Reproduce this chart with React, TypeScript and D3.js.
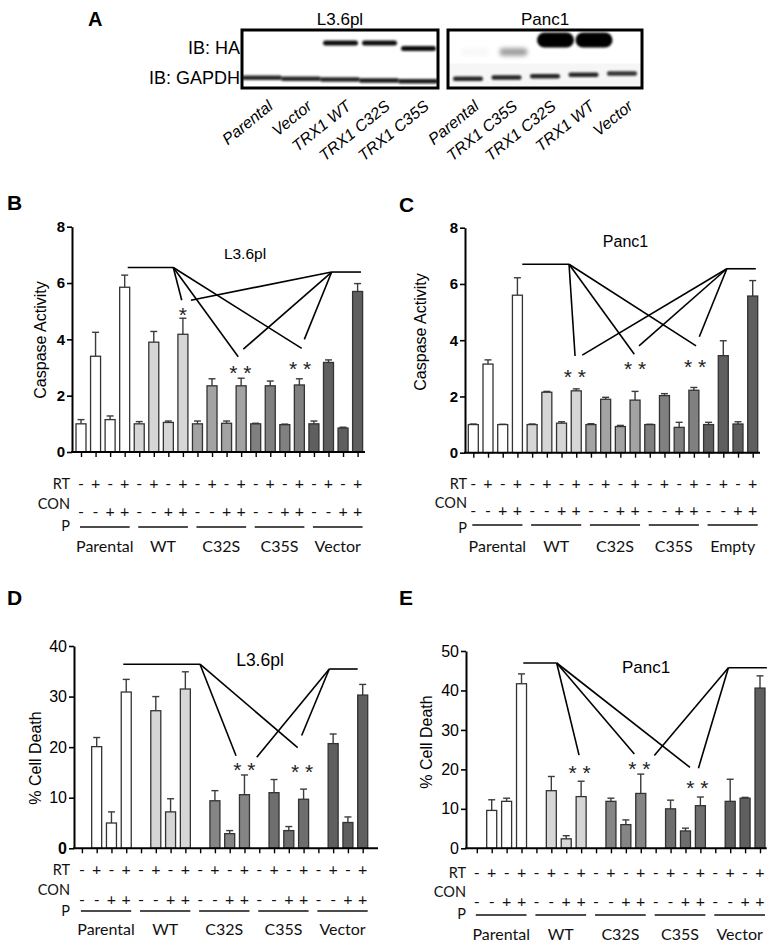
import { useEffect, useRef } from "react";
import * as d3 from "d3";

// ---------- data ----------
const groupsVector = ["Parental", "WT", "C32S", "C35S", "Vector"];
const groupsEmpty = ["Parental", "WT", "C32S", "C35S", "Empty"];
const rtSigns = ["-", "+", "-", "+"];
const conPSigns = ["-", "-", "+", "+"];

// B: caspase activity, L3.6pl
const caspaseL36 = [1.0, 3.4, 1.15, 5.85, 1.0, 3.9, 1.05, 4.18, 1.0, 2.35, 1.02, 2.35, 1.0, 2.35, 0.97, 2.38, 1.0, 3.18, 0.85, 5.7];
const caspaseL36Err = [0.15, 0.85, 0.13, 0.43, 0.08, 0.38, 0.05, 0.57, 0.1, 0.25, 0.08, 0.27, 0.02, 0.17, 0.02, 0.22, 0.1, 0.09, 0.03, 0.28];

// C: caspase activity, Panc1
const caspasePanc1 = [1.0, 3.15, 1.0, 5.6, 1.0, 2.15, 1.05, 2.2, 1.0, 1.9, 0.93, 1.87, 1.0, 2.03, 0.9, 2.22, 1.0, 3.45, 1.02, 5.57];
const caspasePanc1Err = [0.02, 0.15, 0.01, 0.62, 0.02, 0.03, 0.05, 0.07, 0.03, 0.07, 0.04, 0.31, 0.01, 0.07, 0.18, 0.1, 0.08, 0.53, 0.08, 0.55];

// D: % cell death, L3.6pl
const deathL36 = [0, 20.1, 5.0, 30.9, 0, 27.2, 7.2, 31.5, 0, 9.4, 2.9, 10.6, 0, 11.0, 3.5, 9.7, 0, 20.7, 5.1, 30.3];
const deathL36Err = [0, 1.8, 2.2, 2.5, 0, 2.8, 2.6, 3.4, 0, 2.0, 0.6, 3.9, 0, 2.6, 0.8, 2.0, 0, 1.9, 1.1, 2.1];

// E: % cell death, Panc1
const deathPanc1 = [0, 9.6, 11.9, 41.7, 0, 14.6, 2.4, 13.1, 0, 11.9, 6.0, 13.9, 0, 10.0, 4.4, 10.8, 0, 11.9, 12.7, 40.6];
const deathPanc1Err = [0, 2.7, 0.8, 2.5, 0, 3.6, 0.8, 3.9, 0, 0.8, 1.2, 4.9, 0, 2.2, 0.7, 2.2, 0, 5.6, 0.2, 3.1];

const caspaseTicks = [0, 2, 4, 6, 8];
const deathL36Ticks = [0, 10, 20, 30, 40];
const deathPanc1Ticks = [0, 10, 20, 30, 40, 50];

// significance brackets: [bar index, value]
const sigB = {
  left: [3.21, 6.34, 6.55], leftTo: [[6.92, 5.39], [10.8, 3.38], [15.16, 3.68]],
  right: [17.22, 19.23, 6.39], rightTo: [[7.55, 5.39], [11.15, 3.65], [15.34, 4.0]],
  stars: [[7, 5.05, "*"], [10.95, 2.97, "* *"], [15.05, 3.12, "* *"]],
};
const sigC = {
  left: [3.33, 6.51, 6.7], leftTo: [[6.92, 3.44], [10.95, 3.5], [15.15, 3.8]],
  right: [17.24, 19.21, 6.54], rightTo: [[7.41, 3.47], [11.27, 3.8], [15.37, 4.12]],
  stars: [[6.9, 2.88, "* *"], [11, 3.15, "* *"], [15.08, 3.24, "* *"]],
};
const sigD = {
  left: [2.8, 7.99, 36.4], leftTo: [[10.43, 18.3], [14.6, 19.9]],
  right: [16.74, 18.66, 35.45], rightTo: [[11.83, 18.0], [14.87, 22.3]],
  stars: [[11, 16.5, "* *"], [14.9, 16.0, "* *"]],
};
const sigE = {
  left: [3.12, 5.36, 46.96], leftTo: [[6.86, 23.6], [10.57, 23.9], [14.3, 20.5]],
  right: [16.88, 19.46, 45.77], rightTo: [[11.91, 23.5], [14.87, 20.3]],
  stars: [[6.9, 20.3, "* *"], [10.9, 21.4, "* *"], [14.8, 16.6, "* *"]],
};

// A: western blot lanes and band strengths
const blotL36Lanes = ["Parental", "Vector", "TRX1 WT", "TRX1 C32S", "TRX1 C35S"];
const blotL36HA = [0, 0, 0.95, 0.95, 0.95];
const blotL36GAPDH = [0.85, 0.85, 0.85, 0.9, 0.9];
const blotPanc1Lanes = ["Parental", "TRX1 C35S", "TRX1 C32S", "TRX1 WT", "Vector"];
const blotPanc1HA = [0.03, 0.45, 1, 1, 0];
const blotPanc1GAPDH = [0.85, 0.85, 0.85, 0.85, 0.8];

const shadesCaspase = ["#ffffff", "#d6d6d6", "#a3a3a3", "#808080", "#5f5f5f"];
const shadesDeath = ["#ffffff", "#d6d6d6", "#858585", "#6e6e6e", "#5f5f5f"];

const ARIAL = "'Liberation Sans', Arial, sans-serif";
const CALIBRI = "Lato, 'Open Sans', sans-serif";

const panels = [
  {
    letter: "B", values: caspaseL36, errors: caspaseL36Err, colors: shadesCaspase, groups: groupsVector,
    yMax: 8, ticks: caspaseTicks, boldTicks: true, title: "L3.6pl", yLabel: "Caspase Activity", sig: sigB,
    left: 72, right: 365, top: 226.7, bottom: 452, first: 81, last: 357.6,
    letterAt: [7, 210], titleAt: [245, 259], titleSize: 15.5, yLabelAt: [40, 340],
    table: { labelX: 70, rt: 489, con: 509, sign: 517, p: 531, line: 527, group: 552 },
  },
  {
    letter: "C", values: caspasePanc1, errors: caspasePanc1Err, colors: shadesCaspase, groups: groupsEmpty,
    yMax: 8, ticks: caspaseTicks, boldTicks: true, title: "Panc1", yLabel: "Caspase Activity", sig: sigC,
    left: 465, right: 760, top: 227.7, bottom: 452.7, first: 473.3, last: 752.7,
    letterAt: [399, 212], titleAt: [625.5, 247], titleSize: 16, yLabelAt: [420.5, 332],
    table: { labelX: 467, rt: 489, con: 508, sign: 516, p: 533, line: 525, group: 552 },
  },
  {
    letter: "D", values: deathL36, errors: deathL36Err, colors: shadesDeath, groups: groupsVector,
    yMax: 40, ticks: deathL36Ticks, boldTicks: false, zeroBold: true, title: "L3.6pl", yLabel: "% Cell Death", sig: sigD,
    left: 74, right: 378, top: 646, bottom: 848.3, first: 81.9, last: 362.7,
    letterAt: [7, 605], titleAt: [260, 666], titleSize: 17.5, yLabelAt: [35, 758],
    table: { labelX: 70, rt: 875, con: 895, sign: 905, p: 916, line: 911, group: 935 },
  },
  {
    letter: "E", values: deathPanc1, errors: deathPanc1Err, colors: shadesDeath, groups: groupsVector,
    yMax: 50, ticks: deathPanc1Ticks, boldTicks: false, title: "Panc1", yLabel: "% Cell Death", sig: sigE,
    left: 466, right: 766.7, top: 651, bottom: 848.3, first: 476.8, last: 760,
    letterAt: [399, 605], titleAt: [646, 673], titleSize: 17, yLabelAt: [426, 742],
    table: { labelX: 466, rt: 878, con: 897, sign: 907, p: 919, line: 915, group: 940 },
  },
];

function drawBarPanel(root: d3.Selection<SVGSVGElement, unknown, null, undefined>, cfg: any) {
  const g = root.append("g");
  const x = d3.scaleLinear().domain([0, cfg.values.length - 1]).range([cfg.first, cfg.last]);
  const y = d3.scaleLinear().domain([0, cfg.yMax]).range([cfg.bottom, cfg.top]);
  const bw = 10;
  const rows = cfg.values.map((v: number, i: number) => ({ v, i, e: cfg.errors[i] }));

  // panel letter
  g.append("text").attr("x", cfg.letterAt[0]).attr("y", cfg.letterAt[1])
    .style("font", `bold 21px ${ARIAL}`).text(cfg.letter);

  // error bars (under the bars so the stem starts at the top edge)
  const err = g.selectAll("g.err").data(rows.filter((d: any) => d.e > 0)).join("g").attr("class", "err")
    .attr("stroke", "#3c3c3c").attr("stroke-width", 1.4);
  err.append("line").attr("x1", (d: any) => x(d.i)).attr("x2", (d: any) => x(d.i))
    .attr("y1", (d: any) => y(d.v)).attr("y2", (d: any) => y(d.v + d.e));
  err.append("line").attr("x1", (d: any) => x(d.i) - 3.5).attr("x2", (d: any) => x(d.i) + 3.5)
    .attr("y1", (d: any) => y(d.v + d.e)).attr("y2", (d: any) => y(d.v + d.e));

  g.selectAll("rect.bar").data(rows.filter((d: any) => d.v > 0)).join("rect").attr("class", "bar")
    .attr("x", (d: any) => x(d.i) - bw / 2).attr("y", (d: any) => y(d.v))
    .attr("width", bw).attr("height", (d: any) => y(0) - y(d.v))
    .attr("fill", (d: any) => cfg.colors[Math.floor(d.i / 4)])
    .attr("stroke", "#333").attr("stroke-width", 1.3);

  // y axis
  const yAxis = g.append("g").attr("transform", `translate(${cfg.left},0)`)
    .call(d3.axisLeft(y).tickValues(cfg.ticks).tickSize(5).tickSizeOuter(0).tickPadding(2));
  yAxis.select(".domain").attr("stroke", "#000").attr("stroke-width", 2);
  yAxis.selectAll(".tick line").attr("stroke", "#000").attr("stroke-width", 1.6);
  yAxis.selectAll(".tick text").attr("fill", "#000")
    .style("font-family", ARIAL)
    .style("font-size", cfg.boldTicks ? "15px" : "16px")
    .style("font-weight", (d: any) => (cfg.boldTicks || (cfg.zeroBold && d === 0) ? "bold" : "normal"));

  // x axis: line across the whole plot, a tick under every bar
  g.append("line").attr("x1", cfg.left - 1).attr("x2", cfg.right).attr("y1", y(0)).attr("y2", y(0))
    .attr("stroke", "#000").attr("stroke-width", 2);
  const xAxis = g.append("g").attr("transform", `translate(0,${y(0)})`)
    .call(d3.axisBottom(x).tickValues(d3.range(cfg.values.length)).tickSize(5).tickFormat(() => ""));
  xAxis.select(".domain").remove();
  xAxis.selectAll(".tick line").attr("stroke", "#000").attr("stroke-width", 1.4);

  // titles
  g.append("text").attr("x", cfg.titleAt[0]).attr("y", cfg.titleAt[1]).attr("text-anchor", "middle")
    .style("font", `${cfg.titleSize}px ${ARIAL}`).text(cfg.title);
  g.append("text").attr("transform", `translate(${cfg.yLabelAt[0]},${cfg.yLabelAt[1]}) rotate(-90)`)
    .attr("text-anchor", "middle").attr("dominant-baseline", "central")
    .style("font", `16px ${ARIAL}`).text(cfg.yLabel);

  // significance brackets
  const sig = cfg.sig;
  const lines: [number, number, number, number][] = [];
  lines.push([sig.left[0], sig.left[2], sig.left[1], sig.left[2]]);
  sig.leftTo.forEach(([i, v]: number[]) => lines.push([sig.left[1], sig.left[2], i, v]));
  lines.push([sig.right[0], sig.right[2], sig.right[1], sig.right[2]]);
  sig.rightTo.forEach(([i, v]: number[]) => lines.push([sig.right[0], sig.right[2], i, v]));
  g.selectAll("line.sig").data(lines).join("line").attr("class", "sig")
    .attr("x1", (d) => x(d[0])).attr("y1", (d) => y(d[1]))
    .attr("x2", (d) => x(d[2])).attr("y2", (d) => y(d[3]))
    .attr("stroke", "#000").attr("stroke-width", 1.6);
  g.selectAll("text.star").data(sig.stars).join("text").attr("class", "star")
    .attr("x", (d: any) => x(d[0])).attr("y", (d: any) => y(d[1]) + 12)
    .attr("text-anchor", "middle").style("font", `21px ${ARIAL}`).attr("fill", "#222")
    .text((d: any) => d[2]);

  // condition table
  const t = cfg.table;
  const tbl = g.append("g").style("font-family", CALIBRI).attr("fill", "#111");
  tbl.append("text").attr("x", t.labelX).attr("y", t.rt).attr("text-anchor", "end").style("font-size", "14.5px").text("RT");
  tbl.append("text").attr("x", t.labelX).attr("y", t.con).attr("text-anchor", "end").style("font-size", "14.5px").text("CON");
  tbl.append("text").attr("x", t.labelX).attr("y", t.p).attr("text-anchor", "end").style("font-size", "14.5px").text("P");
  tbl.selectAll("text.rt").data(d3.range(cfg.values.length)).join("text").attr("class", "rt")
    .attr("x", (i) => x(i)).attr("y", t.rt).attr("text-anchor", "middle").style("font-size", "16px")
    .text((i) => rtSigns[i % 4]);
  tbl.selectAll("text.cp").data(d3.range(cfg.values.length)).join("text").attr("class", "cp")
    .attr("x", (i) => x(i)).attr("y", t.sign).attr("text-anchor", "middle").style("font-size", "16px")
    .text((i) => conPSigns[i % 4]);
  tbl.selectAll("line.grp").data(cfg.groups).join("line").attr("class", "grp")
    .attr("x1", (_: any, k: number) => x(k * 4) - 1).attr("x2", (_: any, k: number) => x(k * 4 + 3) + 5)
    .attr("y1", t.line).attr("y2", t.line).attr("stroke", "#111").attr("stroke-width", 1.3);
  tbl.selectAll("text.grp").data(cfg.groups).join("text").attr("class", "grp")
    .attr("x", (_: any, k: number) => (x(k * 4) + x(k * 4 + 3)) / 2 + 2).attr("y", t.group)
    .attr("text-anchor", "middle").style("font-size", "16px").text((d: any) => d);
}

function drawBlot(root: d3.Selection<SVGSVGElement, unknown, null, undefined>) {
  const defs = root.append("defs");
  defs.append("filter").attr("id", "blur1").attr("x", "-30%").attr("y", "-80%").attr("width", "160%").attr("height", "260%")
    .append("feGaussianBlur").attr("stdDeviation", 1.1);
  defs.append("filter").attr("id", "blur2").attr("x", "-30%").attr("y", "-80%").attr("width", "160%").attr("height", "260%")
    .append("feGaussianBlur").attr("stdDeviation", 2);

  const g = root.append("g");
  g.append("text").attr("x", 88).attr("y", 26).style("font", `bold 20px ${ARIAL}`).text("A");
  g.append("text").attr("x", 240).attr("y", 54).attr("text-anchor", "end").style("font", `18px ${ARIAL}`).text("IB: HA");
  g.append("text").attr("x", 240).attr("y", 84).attr("text-anchor", "end").style("font", `18px ${ARIAL}`).text("IB: GAPDH");

  const blots = [
    { title: "L3.6pl", x0: 242, x1: 438, lanes: blotL36Lanes, ha: blotL36HA, gapdh: blotL36GAPDH, panc: false },
    { title: "Panc1", x0: 448, x1: 642, lanes: blotPanc1Lanes, ha: blotPanc1HA, gapdh: blotPanc1GAPDH, panc: true },
  ];
  blots.forEach((b) => {
    const lane = d3.scalePoint<number>().domain(d3.range(b.lanes.length)).range([b.x0 + 20, b.x1 - 20]);
    const bg = g.append("g");
    bg.append("text").attr("x", (b.x0 + b.x1) / 2).attr("y", 25).attr("text-anchor", "middle")
      .style("font", `17px ${ARIAL}`).text(b.title);
    bg.append("rect").attr("x", b.x0).attr("y", 30).attr("width", b.x1 - b.x0).attr("height", 58)
      .attr("fill", "#fff");
    if (b.panc) {
      bg.append("rect").attr("x", b.x0).attr("y", 63).attr("width", b.x1 - b.x0).attr("height", 25).attr("fill", "#f6f6f6");
      bg.append("line").attr("x1", b.x0).attr("x2", b.x1).attr("y1", 62.5).attr("y2", 62.5).attr("stroke", "#fff").attr("stroke-width", 2);
    }
    // HA bands
    b.ha.forEach((s, i) => {
      if (s <= 0) return;
      if (!b.panc) {
        bg.append("rect").attr("x", lane(i)! - 17).attr("y", i === 4 ? 46 : 40.5).attr("width", 35).attr("height", 5)
          .attr("rx", 2.5).attr("fill", "#000").attr("opacity", s).attr("filter", "url(#blur1)");
      } else if (s > 0.8) {
        bg.append("rect").attr("x", lane(i)! - 8).attr("y", 32.5).attr("width", 37).attr("height", 15)
          .attr("rx", 7.5).attr("fill", "#000").attr("opacity", s).attr("filter", "url(#blur1)");
      } else {
        bg.append("rect").attr("x", lane(i)! - 7).attr("y", 48).attr("width", 28).attr("height", 8)
          .attr("rx", 4).attr("fill", "#333").attr("opacity", s).attr("filter", "url(#blur2)");
      }
    });
    // GAPDH bands
    b.gapdh.forEach((s, i) => {
      const yy = b.panc ? 76.5 - i * 1.3 : 75.5 + i * 0.9;
      const w = b.panc ? 30 : 40;
      bg.append("rect").attr("x", lane(i)! - w / 2).attr("y", yy).attr("width", w).attr("height", 4.5)
        .attr("rx", 2).attr("fill", "#000").attr("opacity", s).attr("filter", "url(#blur1)");
    });
    bg.append("rect").attr("x", b.x0).attr("y", 30).attr("width", b.x1 - b.x0).attr("height", 58)
      .attr("fill", "none").attr("stroke", "#000").attr("stroke-width", 3);
    // lane labels
    bg.selectAll("text.lane").data(b.lanes).join("text").attr("class", "lane")
      .attr("transform", (_, i) => `translate(${lane(i)! + 12},108) rotate(-39)`)
      .attr("text-anchor", "end").style("font", `italic 16px ${ARIAL}`).text((d) => d);
  });
}

export default function App() {
  const svgRef = useRef<SVGSVGElement>(null);

  useEffect(() => {
    if (!svgRef.current) return;
    const svg = d3.select(svgRef.current);
    svg.selectAll("*").remove();
    svg.append("rect").attr("width", 771).attr("height", 949).attr("fill", "#fff");
    drawBlot(svg);
    panels.forEach((p) => drawBarPanel(svg, p));
  }, []);

  return (
    <svg
      ref={svgRef}
      width={771}
      height={949}
      style={{ position: "absolute", left: 0, top: 0, background: "#fff" }}
    />
  );
}
